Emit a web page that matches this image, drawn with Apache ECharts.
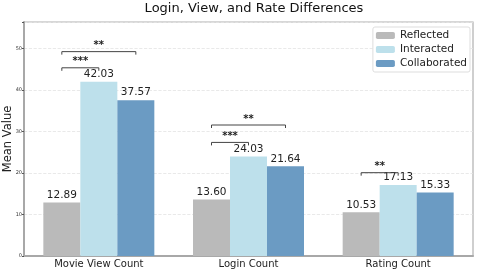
<!DOCTYPE html>
<html><head><meta charset="utf-8">
<script src="https://cdn.jsdelivr.net/npm/echarts@6/dist/echarts.min.js"></script>
<style>html,body{margin:0;padding:0;background:#fff}#c{width:478px;height:272px}</style>
</head><body><div id="c"></div>
<script>
const categories = ['Movie View Count', 'Login Count', 'Rating Count'];
const seriesNames = ['Reflected', 'Interacted', 'Collaborated'];
const reflected = [12.89, 13.60, 10.53];
const interacted = [42.03, 24.03, 17.13];
const collaborated = [37.57, 21.64, 15.33];
const yTicks = [0, 10, 20, 30, 40, 50];
// significance brackets: [categoryIndex, fromBar, toBar, yValue, label]
const brackets = [
  [0, 0, 1, 45.4, '***'],
  [0, 0, 2, 49.3, '**'],
  [1, 0, 1, 27.4, '***'],
  [1, 0, 2, 31.6, '**'],
  [2, 0, 1, 20.1, '**']
];
const colors = ['#BABABA', '#BDE0EB', '#6B9BC3'];
const FONT = 'DejaVu Sans';
const BW = 37;

const chart = echarts.init(document.getElementById('c'), null, {renderer: 'canvas'});
const values = [reflected, interacted, collaborated];
const barSeries = seriesNames.map((n, i) => ({
  name: n, type: 'bar', data: values[i], barWidth: BW, barGap: '0%',
  itemStyle: {color: colors[i]},
  label: {show: true, position: 'top', distance: 2, formatter: p => p.value.toFixed(2),
    fontFamily: FONT, fontSize: 10.5, color: '#222'}
}));

chart.setOption({
  animation: false,
  title: {text: 'Login, View, and Rate Differences', left: 249, textAlign: 'center', top: -3,
    textStyle: {fontFamily: FONT, fontSize: 13, fontWeight: 'normal', color: '#111'}},
  legend: {data: seriesNames, orient: 'vertical', right: 8, top: 27, itemWidth: 19, itemHeight: 7,
    itemGap: 3, padding: [3, 3, 3, 3], borderColor: '#ddd', borderWidth: 1, borderRadius: 2,
    backgroundColor: '#fff',
    textStyle: {fontFamily: FONT, fontSize: 10.5, color: '#222'}},
  grid: {left: 24, right: 5, top: 22, bottom: 16, show: true, borderColor: '#b0b0b0', borderWidth: 1.2,
    containLabel: false, outerBoundsMode: 'none'},
  xAxis: {type: 'category', data: categories,
    axisLine: {lineStyle: {color: '#a8a8a8', width: 2}}, axisTick: {show: false},
    axisLabel: {fontFamily: FONT, fontSize: 10, color: '#222', margin: 3}},
  yAxis: {type: 'value', min: 0, max: 56.45, interval: 10, name: 'Mean Value', nameLocation: 'middle',
    nameGap: 10, nameMoveOverlap: false, nameTextStyle: {fontFamily: FONT, fontSize: 11.5, color: '#222'},
    axisLine: {show: true, lineStyle: {color: '#a8a8a8', width: 2}},
    axisTick: {show: true, length: 2, lineStyle: {color: '#555'}},
    axisLabel: {fontFamily: FONT, fontSize: 5, color: '#333', margin: 2,
      formatter: v => yTicks.indexOf(v) >= 0 ? String(v) : ''},
    splitLine: {show: true, lineStyle: {color: '#e3e3e3', type: 'dashed', width: 0.8}}},
  series: barSeries.concat([{
    type: 'custom', data: brackets, silent: true, z: 10,
    encode: {x: 0, y: 3},
    renderItem: (params, api) => {
      const c = api.coord([api.value(0), api.value(3)]);
      const x1 = c[0] + (api.value(1) - 1) * BW;
      const x2 = c[0] + (api.value(2) - 1) * BW;
      const y = c[1];
      return {type: 'group', children: [
        {type: 'polyline', shape: {points: [[x1, y + 3], [x1, y], [x2, y], [x2, y + 3]]},
          style: {stroke: '#444', lineWidth: 1, fill: null}},
        {type: 'text', style: {text: brackets[params.dataIndex][4], x: (x1 + x2) / 2, y: y - 1,
          align: 'center', verticalAlign: 'bottom', fontFamily: FONT, fontSize: 10, fill: '#222', fontWeight: 'bold'}}
      ]};
    }
  }])
});
</script></body></html>
